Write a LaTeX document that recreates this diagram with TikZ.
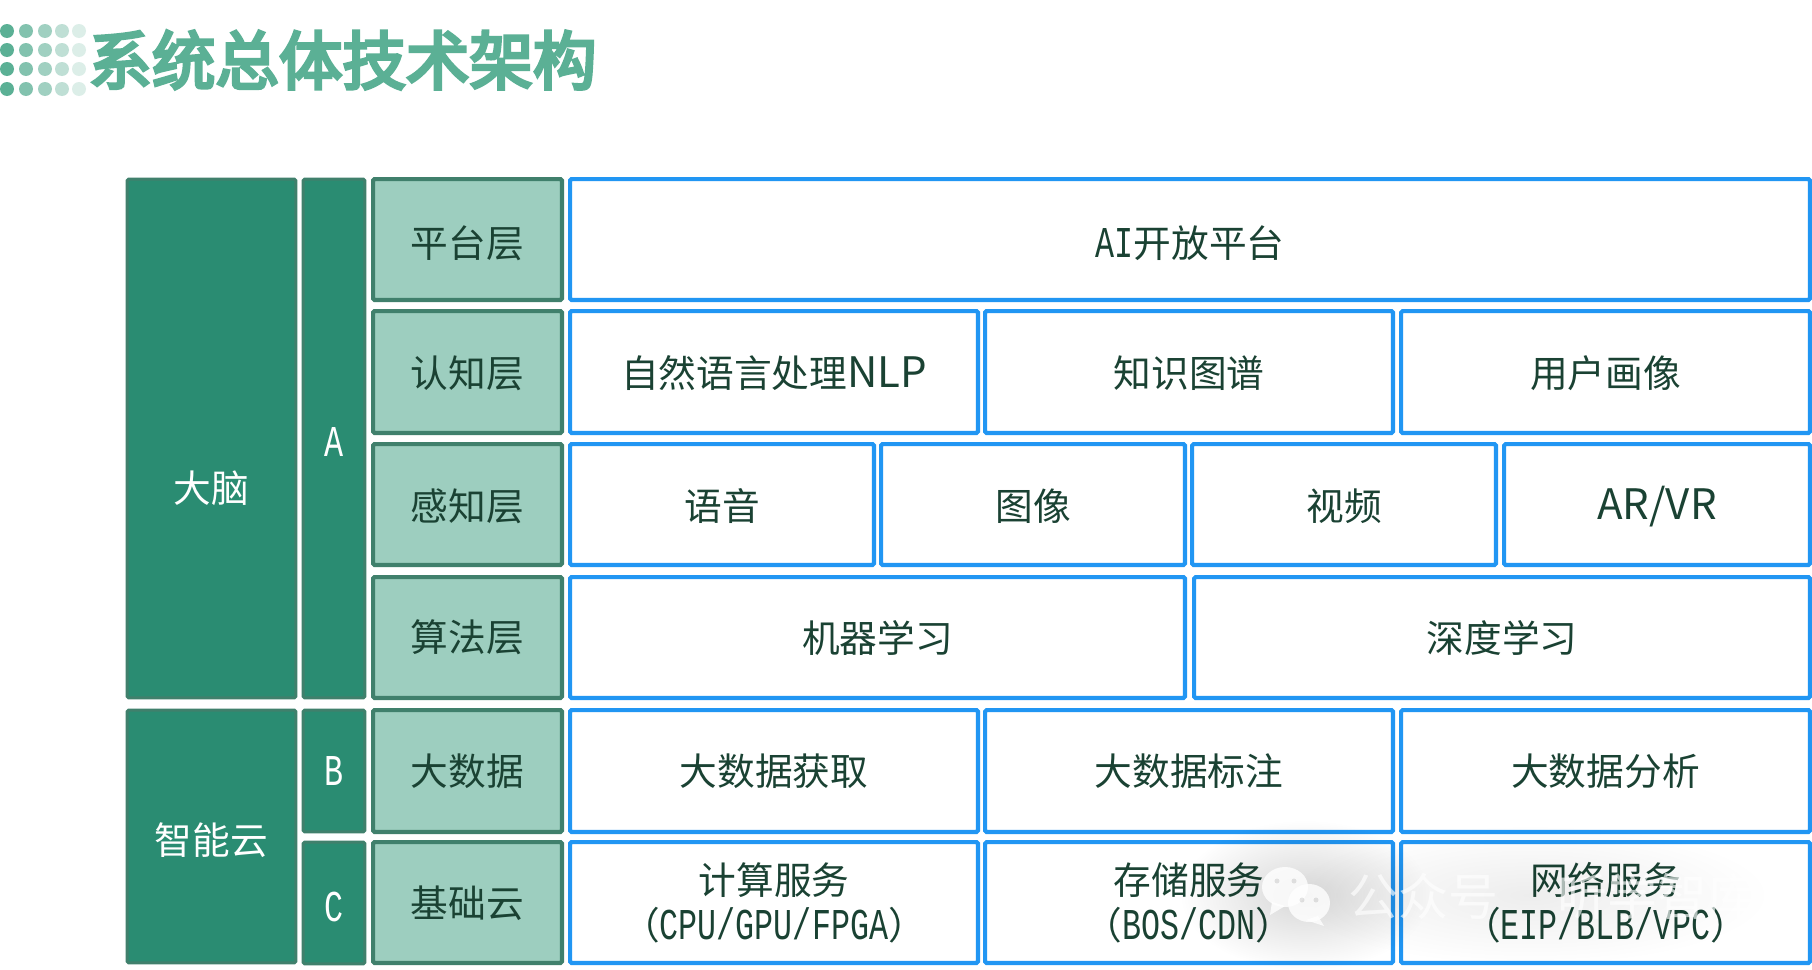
\documentclass[tikz,border=0pt]{standalone}
\usepackage{fontspec}
\usetikzlibrary{fadings}
\setmainfont{Noto Sans CJK SC}[BoldFont={Noto Sans CJK SC}]
\newfontfamily\titlefont{Noto Sans CJK SC}[FakeBold=5]
\newfontfamily\monofont{Liberation Mono}[FakeStretch=0.72]
\newcommand{\mn}[1]{{\monofont\fontsize{44}{44}\selectfont #1}}
\newcommand{\ltn}[1]{{\fontsize{42}{42}\selectfont #1}}
\newcommand{\dn}[2]{\raisebox{-#1pt}[\height][\depth]{#2}}
\definecolor{inkgreen}{HTML}{1A4233}
\definecolor{deepfill}{HTML}{2A8C72}
\definecolor{deepline}{HTML}{40806C}
\definecolor{lightfill}{HTML}{9DCEBF}
\definecolor{cellblue}{HTML}{2196F3}
\definecolor{titlegreen}{HTML}{5BB095}
\tikzfading[name=softglow,inner color=transparent!0,outer color=transparent!100]
\tikzset{
  base/.style={rounded corners=1.5pt,line width=4.2pt,align=center,inner sep=0pt,font=\fontsize{37.7}{45}\selectfont},
  deepbox/.style={base,draw=deepline,line width=3pt,fill=deepfill,text=white},
  lightbox/.style={base,draw=deepline,fill=lightfill,text=inkgreen},
  cellbox/.style={base,draw=cellblue,fill=white,text=inkgreen},
  dot/.style={circle,inner sep=0pt,minimum size=14pt},
  glow/.style={ellipse,inner sep=0pt,fill=black,path fading=softglow},
  markword/.style={text=white,text opacity=0.65,inner sep=0pt,font=\fontsize{50}{50}\selectfont},
  bubble/.style={fill=white,fill opacity=0.8},
  bubbleeye/.style={fill=black,fill opacity=0.1},
}
% #1 name, #2 style, #3-#6 outer pixel bounds x0,y0,x1,y1, #7 text
\newcommand{\cell}[7]{%
  \pgfmathsetmacro{\cx}{(#3+#5)/2}\pgfmathsetmacro{\cy}{(#4+#6)/2}%
  \pgfmathsetmacro{\cw}{#5-#3-4.2}\pgfmathsetmacro{\ch}{#6-#4-4.2}%
  \node[#2,minimum width=\cw pt,minimum height=\ch pt] (#1) at (\cx,\cy) {#7};}
\begin{document}
\begin{tikzpicture}[x=1pt,y=-1pt]
\useasboundingbox (0,0) rectangle (1812,969);
\fill[white] (0,0) rectangle (1812,969);
% dots
\foreach \xx/\cc in {7/5BB095,26/82C2AE,45/A0D0C1,62/BFDFD5,79/DCEEE8}{
  \definecolor{dc}{HTML}{\cc}
  \foreach \yy in {31,50,69,89}{
    \node[dot,fill=dc] (d\xx-\yy) at (\xx,\yy) {};
  }
}
\node[anchor=center,text=titlegreen,font=\titlefont\fontsize{63.5}{63.5}\selectfont,inner sep=0pt] (title) at (342.5,60) {系统总体技术架构};
% left columns
\cell{brain}{deepbox}{125}{177}{298}{700}{\dn{50}{大脑}}
\cell{cloud}{deepbox}{125}{708}{298}{965}{\dn{3.5}{智能云}}
\cell{colA}{deepbox}{301}{177}{367}{700}{\dn{3.5}{\mn{A}}}
\cell{colB}{deepbox}{301}{708}{367}{834}{\mn{B}}
\cell{colC}{deepbox}{301}{840}{367}{966}{\dn{3.5}{\mn{C}}}
% layers
\cell{lay1}{lightbox}{371}{177}{564}{302}{\dn{3.5}{平台层}}
\cell{lay2}{lightbox}{371}{309}{564}{435}{\dn{1}{认知层}}
\cell{lay3}{lightbox}{371}{442}{564}{567}{\dn{2}{感知层}}
\cell{lay4}{lightbox}{371}{575}{564}{700}{算法层}
\cell{lay5}{lightbox}{371}{708}{564}{834}{大数据}
\cell{lay6}{lightbox}{371}{840}{564}{965}{\dn{1}{基础云}}
% cells
\cell{ai}{cellbox}{568}{177}{1812}{302}{\dn{3.5}{\mn{AI}开放平台}}
\cell{c21}{cellbox}{568}{309}{980}{435}{\dn{1}{自然语言处理\ltn{NLP}}}
\cell{c22}{cellbox}{983}{309}{1395}{435}{\dn{1}{知识图谱}}
\cell{c23}{cellbox}{1399}{309}{1812}{435}{\dn{1}{用户画像}}
\cell{c31}{cellbox}{568}{442}{876}{567}{\dn{2}{语音}}
\cell{c32}{cellbox}{879}{442}{1187}{567}{\dn{2}{图像}}
\cell{c33}{cellbox}{1190}{442}{1498}{567}{\dn{2}{视频}}
\cell{c34}{cellbox}{1502}{442}{1812}{567}{\dn{2}{\ltn{AR/VR}}}
\cell{c41}{cellbox}{568}{575}{1187}{700}{机器学习}
\cell{c42}{cellbox}{1192}{575}{1812}{700}{深度学习}
\cell{c51}{cellbox}{568}{708}{980}{834}{大数据获取}
\cell{c52}{cellbox}{983}{708}{1395}{834}{大数据标注}
\cell{c53}{cellbox}{1399}{708}{1812}{834}{大数据分析}
\cell{c61}{cellbox}{568}{840}{980}{965}{计算服务\\（\mn{CPU/GPU/FPGA}）}
\cell{c62}{cellbox}{983}{840}{1395}{965}{存储服务\\（\mn{BOS/CDN}）}
\cell{c63}{cellbox}{1399}{840}{1812}{965}{网络服务\\（\mn{EIP/BLB/VPC}）}
% watermark
\fill[black,opacity=0.16,path fading=softglow] (1305,895) ellipse [x radius=125,y radius=75];
\fill[black,opacity=0.07,path fading=softglow] (1530,895) ellipse [x radius=240,y radius=70];
\fill[bubble] (1285,887) ellipse [x radius=23,y radius=20];
\fill[bubble] (1272,902) -- (1270,915) -- (1285,906) -- cycle;
\fill[bubble] (1309,903) ellipse [x radius=21,y radius=19];
\fill[bubble] (1318,916) -- (1324,926) -- (1306,920) -- cycle;
\foreach \ex/\ey in {1277/881,1294/881,1302/900,1316/900}{
  \fill[bubbleeye] (\ex,\ey) circle [radius=2.5];
}
\node[markword] (wm1) at (1423,896) {公众号};
\node[markword] (wm2) at (1657,896) {听学智库};
\end{tikzpicture}
\end{document}
